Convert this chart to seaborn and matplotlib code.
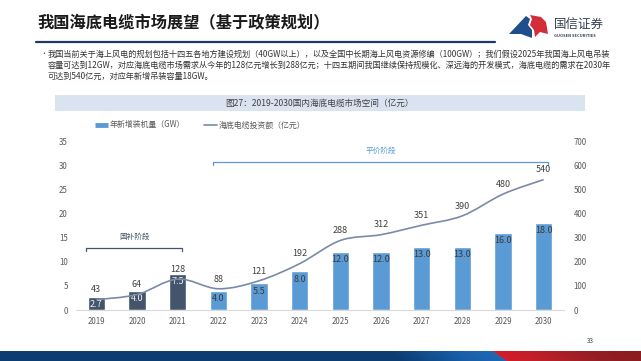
import numpy as np
import matplotlib
matplotlib.use('Agg')
import matplotlib.pyplot as plt
import seaborn as sns
from matplotlib.path import Path
from matplotlib.patches import PathPatch, Rectangle, Polygon
from matplotlib.lines import Line2D

# 数据
years = ['2019', '2020', '2021', '2022', '2023', '2024', '2025', '2026', '2027', '2028', '2029', '2030']
gw = [2.7, 4.0, 7.5, 4.0, 5.5, 8.0, 12.0, 12.0, 13.0, 13.0, 16.0, 18.0]
invest = [43, 64, 128, 88, 121, 192, 288, 312, 351, 390, 480, 540]
gw_name = '年新增装机量（GW）'
inv_name = '海底电缆投资额（亿元）'

title = '我国海底电缆市场展望（基于政策规划）'
bullet_lines = [
    '我国当前关于海上风电的规划包括十四五各地方建设规划（40GW以上），以及全国中长期海上风电资源修编（100GW）；我们假设2025年我国海上风电吊装',
    '容量可达到12GW，对应海底电缆市场需求从今年的128亿元增长到288亿元；十四五期间我国继续保持规模化、深远海的开发模式，海底电缆的需求在2030年',
    '可达到540亿元，对应年新增吊装容量18GW。',
]
chart_title = '图27：2019-2030国内海底电缆市场空间（亿元）'

DARK = '#44546A'
BLUE = '#5B9BD5'
LINE = '#7A8AA8'
GREY = '#595959'

sns.set_style('white')
plt.rcParams['font.family'] = ['Noto Sans CJK SC', 'DejaVu Sans']

W, H = 641, 361
fig = plt.figure(figsize=(W / 100, H / 100), dpi=100)


def fx(x):
    return x / W


def fy(y):
    return 1 - y / H


# 页眉
fig.text(fx(37), fy(22), title, fontsize=11.7, weight='bold', color='#1A1A1A', va='center', ha='left')
fig.add_artist(Line2D([fx(36), fx(495)], [fy(42), fy(42)], color='#1F3864', lw=1.6))

# logo
fig.add_artist(Polygon([(fx(a), fy(b)) for a, b in
                        [(509, 34), (526, 16), (530, 19), (528, 25), (532, 30), (532, 38), (521, 34)]],
                       closed=True, color='#1F4E8C', lw=0))
fig.add_artist(Polygon([(fx(a), fy(b)) for a, b in
                        [(530, 15), (541, 17), (546, 22), (548, 34), (540, 32), (535, 37), (534, 30), (530, 25), (532, 19)]],
                       closed=True, color='#D42D3A', lw=0))
fig.text(fx(554), fy(24), '国信证券', fontsize=9, color='#333F50', va='center', ha='left')
fig.text(fx(554), fy(36), 'GUOSEN SECURITIES', fontsize=2.9, weight='bold', color='#333F50', va='center', ha='left')

# 正文
fig.text(fx(40), fy(54), '•', fontsize=5, color='#404040', va='center', ha='left')
for i, line in enumerate(bullet_lines):
    fig.text(fx(48), fy(54 + i * 11.3), line, fontsize=5.9, color='#333333', va='center', ha='left')

# 图表标题
fig.add_artist(Rectangle((fx(55), fy(111)), fx(530), 16 / H, color='#DAE3F0', lw=0))
fig.text(fx(320), fy(103), chart_title, fontsize=6.2, color='#404040', va='center', ha='center')

# 主图
ax = fig.add_axes([fx(76), fy(310), fx(564 - 76), (310 - 141) / H])
sns.barplot(x=years, y=gw, hue=years, palette=[DARK] * 3 + [BLUE] * 9, width=0.42,
            saturation=1, legend=False, ax=ax, zorder=2)
ax.set_xlim(-0.5, 11.5)
ax.set_ylim(0, 35)
ax.set_yticks(range(0, 36, 5))
ax.set_xlabel('')
ax.set_ylabel('')
for s in ['top', 'right', 'left']:
    ax.spines[s].set_visible(False)
ax.spines['bottom'].set_color('#D9D9D9')
ax.spines['bottom'].set_linewidth(0.8)
ax.tick_params(axis='both', length=0, labelsize=5.7, colors=GREY)
ax.tick_params(axis='y', pad=6)
ax.tick_params(axis='x', pad=5)

for i, v in enumerate(gw):
    ax.annotate(f'{v:.1f}', (i, v), xytext=(0, -5.5), textcoords='offset points',
                ha='center', va='center', fontsize=6.5,
                color='#F2F2F2' if i < 3 else '#3A3A3A', zorder=5)

ax2 = ax.twinx()
ax2.set_ylim(0, 700)
ax2.set_yticks(range(0, 701, 100))
for s in ax2.spines.values():
    s.set_visible(False)
ax2.tick_params(axis='y', length=0, labelsize=5.7, colors=GREY, pad=7)

# 平滑折线
xs = np.arange(len(invest), dtype=float)
ys = np.array(invest, dtype=float)
pts = np.column_stack([xs, ys])
verts = [pts[0]]
codes = [Path.MOVETO]
n = len(pts)
for i in range(n - 1):
    p0 = pts[max(i - 1, 0)]
    p1 = pts[i]
    p2 = pts[i + 1]
    p3 = pts[min(i + 2, n - 1)]
    c1 = p1 + (p2 - p0) / 6
    c2 = p2 - (p3 - p1) / 6
    verts += [c1, c2, p2]
    codes += [Path.CURVE4] * 3
ax2.add_patch(PathPatch(Path(verts, codes), facecolor='none', edgecolor=LINE, lw=1.2, zorder=3))
for i, v in enumerate(invest):
    ax2.annotate(f'{v}', (i, v), xytext=(0, 7), textcoords='offset points',
                 ha='center', va='center', fontsize=6.5, color='#404040')

# 阶段标注
def bracket(x0, x1, y, color, text, tx, ty):
    ax.plot([x0, x0, x1, x1], [y - 0.6, y, y, y - 0.6], color=color, lw=0.9, clip_on=False)
    ax.text(tx, ty, text, color=color, fontsize=5.5, ha='center', va='center')


bracket(-0.26, 2.11, 12.9, DARK, '国补阶段', 0.94, 15.1)
bracket(2.86, 11.11, 30.7, BLUE, '平价阶段', 7.0, 32.9)

# 图例
handles = [Line2D([], [], color=BLUE, lw=3.5, solid_capstyle='butt'),
           Line2D([], [], color=LINE, lw=1.2)]
fig.legend(handles, [gw_name, inv_name], loc='center left', bbox_to_anchor=(fx(95), fy(125)),
           ncol=2, frameon=False, fontsize=5.7, handlelength=1.6, handletextpad=0.2,
           columnspacing=2.5, borderpad=0, borderaxespad=0, labelcolor=GREY)

# 页脚
fig.text(fx(590), fy(341), '33', fontsize=4.5, color='#404040', ha='center', va='center')
stops_x = [0, 400, 470, 505, 507, 545, 600, 641]
stops_c = np.array([[11, 60, 114], [11, 60, 114], [25, 95, 170], [30, 105, 180],
                    [212, 28, 42], [190, 32, 42], [150, 30, 35], [140, 28, 32]]) / 255
band_h = 10
img = np.zeros((band_h, W, 3))
for r in range(band_h):
    shift = (band_h - 1 - r) * 1.5
    cols = np.arange(W) + shift
    for k in range(3):
        img[r, :, k] = np.interp(cols, stops_x, stops_c[:, k])
bax = fig.add_axes([0, 0, 1, band_h / H])
bax.imshow(img, aspect='auto', interpolation='bilinear')
bax.axis('off')

fig.savefig('out.png', dpi=100)
